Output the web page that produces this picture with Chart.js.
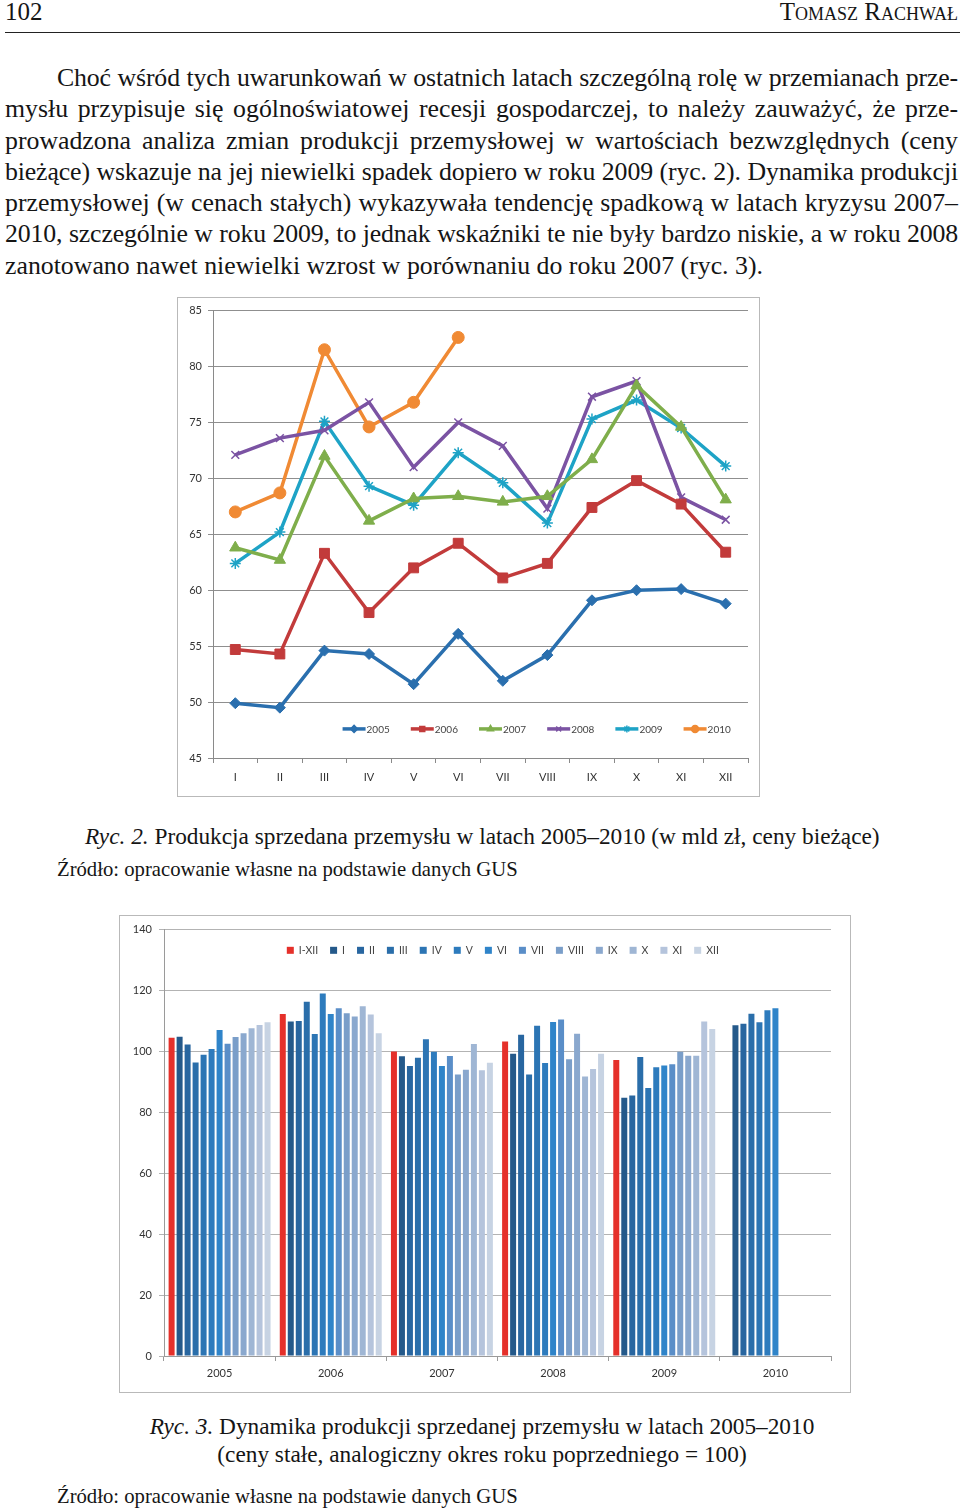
<!DOCTYPE html>
<html lang="pl">
<head>
  <meta charset="UTF-8" />
  <title>Ryc. 2 i Ryc. 3</title>
  <script src="https://cdn.jsdelivr.net/npm/chart.js@4.4.1/dist/chart.umd.min.js"></script>
  <style>
    /* ---------- page ---------- */
    html,body{margin:0;padding:0;background:#fff;}
    body{width:960px;height:1512px;position:relative;overflow:hidden;
         font-family:"Liberation Serif","DejaVu Serif",serif;color:#151515;}
    .abs{position:absolute;white-space:nowrap;}
    .pageno{left:5px;top:-2px;font-size:25px;line-height:28px;}
    .author{right:2px;top:-2px;font-size:25px;line-height:28px;font-variant:small-caps;}
    .rule{position:absolute;left:5px;right:0;top:32px;height:0;border-top:1.4px solid #222;}
    .para{position:absolute;left:5px;top:62px;width:953px;font-size:25.8px;}
    .para div{height:31.3px;line-height:31.3px;white-space:nowrap;
              text-align:justify;text-align-last:justify;}
    .para div.first{padding-left:52px;}
    .para div.last{text-align-last:left;}
    .cap{font-size:23.3px;line-height:26px;}
    .src{font-size:20.7px;line-height:24px;}
    .box{position:absolute;box-sizing:border-box;border:1px solid #b9b9b9;background:#fff;}
    .box canvas{display:block;}
  </style>
</head>
<body>
  <div class="abs pageno">102</div>
  <div class="abs author">Tomasz Rachwał</div>
  <div class="rule"></div>

  <div class="para">
    <div class="first">Choć wśród tych uwarunkowań w ostatnich latach szczególną rolę w przemianach prze-</div>
    <div>mysłu przypisuje się ogólnoświatowej recesji gospodarczej, to należy zauważyć, że prze-</div>
    <div>prowadzona analiza zmian produkcji przemysłowej w wartościach bezwzględnych (ceny</div>
    <div>bieżące) wskazuje na jej niewielki spadek dopiero w roku 2009 (ryc. 2). Dynamika produkcji</div>
    <div>przemysłowej (w cenach stałych) wykazywała tendencję spadkową w latach kryzysu 2007–</div>
    <div>2010, szczególnie w roku 2009, to jednak wskaźniki te nie były bardzo niskie, a w roku 2008</div>
    <div class="last">zanotowano nawet niewielki wzrost w porównaniu do roku 2007 (ryc. 3).</div>
  </div>

  <!-- ---- Ryc. 2 ---- -->
  <div class="box" style="left:177px;top:297px;width:583px;height:500px;">
    <canvas id="salesChart"></canvas>
  </div>
  <div class="abs cap" style="left:85px;top:823px;"><i>Ryc. 2.</i> Produkcja sprzedana przemysłu w latach 2005–2010 (w mld zł, ceny bieżące)</div>
  <div class="abs src" style="left:57px;top:857px;">Źródło: opracowanie własne na podstawie danych GUS</div>

  <!-- ---- Ryc. 3 ---- -->
  <div class="box" style="left:119px;top:915px;width:732px;height:478px;">
    <canvas id="dynChart"></canvas>
  </div>
  <div class="abs cap" style="left:0;width:964px;top:1412px;text-align:center;line-height:28px;">
    <i>Ryc. 3.</i> Dynamika produkcji sprzedanej przemysłu w latach 2005–2010<br>(ceny stałe, analogiczny okres roku poprzedniego = 100)
  </div>
  <div class="abs src" style="left:57px;top:1484px;">Źródło: opracowanie własne na podstawie danych GUS</div>

  <script>
    /* ---------- data: Ryc. 2 (mld zł, ceny bieżące) ---------- */
    const months = ["I","II","III","IV","V","VI","VII","VIII","IX","X","XI","XII"];
    const salesYears = ["2005","2006","2007","2008","2009","2010"];
    const sales2005 = [49.9, 49.5, 54.6, 54.3, 51.6, 56.1, 51.9, 54.2, 59.1, 60.0, 60.1, 58.8];
    const sales2006 = [54.7, 54.3, 63.3, 58.0, 62.0, 64.2, 61.1, 62.4, 67.4, 69.8, 67.7, 63.4];
    const sales2007 = [63.8, 62.7, 72.0, 66.2, 68.2, 68.4, 67.9, 68.4, 71.7, 78.3, 74.6, 68.1];
    const sales2008 = [72.1, 73.6, 74.3, 76.8, 71.0, 75.0, 72.9, 67.3, 77.3, 78.7, 68.3, 66.3];
    const sales2009 = [62.4, 65.2, 75.1, 69.3, 67.6, 72.3, 69.6, 66.0, 75.3, 77.0, 74.5, 71.1];
    const sales2010 = [67.0, 68.7, 81.5, 74.6, 76.8, 82.6, null, null, null, null, null, null];

    /* ---------- data: Ryc. 3 (analogiczny okres roku poprzedniego = 100) ---------- */
    const dynYears = ["2005","2006","2007","2008","2009","2010"];
    const dynPeriods = ["I-XII","I","II","III","IV","V","VI","VII","VIII","IX","X","XI","XII"];
    const dyn2005 = [104.5, 104.8, 102.3, 96.4, 98.9, 100.8, 107.0, 102.5, 104.7, 106.0, 107.6, 108.7, 109.6];
    const dyn2006 = [112.3, 109.8, 110.0, 116.3, 105.7, 119.0, 112.3, 114.2, 112.5, 111.5, 114.8, 112.1, 106.0];
    const dyn2007 = [100.0, 98.4, 95.2, 97.9, 104.0, 99.9, 95.2, 98.5, 92.4, 94.0, 102.4, 93.8, 96.3];
    const dyn2008 = [103.3, 99.2, 105.5, 92.4, 108.4, 96.2, 109.7, 110.5, 97.4, 105.8, 91.8, 94.2, 99.2];
    const dyn2009 = [97.2, 84.8, 85.5, 98.2, 88.0, 94.8, 95.4, 95.8, 99.9, 98.6, 98.6, 109.8, 107.4];
    const dyn2010 = [null, 108.6, 109.1, 112.4, 109.6, 113.5, 114.2, null, null, null, null, null, null];

    /* ---------- styles ---------- */
    const lineColors = ["#2a6fae","#c23b3b","#7fae4b","#7b53a3","#1ea3c6","#f08a34"];
    const lineMarkers = [
      {style:"rectRot", r:5.5}, {style:"rect", r:7}, {style:"triangle", r:6.5},
      {style:"crossRot", r:5.5}, {style:"star", r:5.5}, {style:"circle", r:6}
    ];
    const barColors = ["#e5302a","#24598a","#2866a0","#2a6eaa","#2c75b4","#2d7bbd","#2f84c9",
                       "#5a8ec8","#7a9ec9","#8aa8ce","#9fb6d4","#b5c4dc","#c7d3e3"];
    const axisFont = {family:"Lato, 'Open Sans', sans-serif", size:11};

    /* squeeze paragraph lines that are a touch too long for the column */
    document.querySelectorAll(".para div").forEach(d=>{
      const isLast = d.classList.contains("last");
      d.style.textAlignLast = "left";
      const s = document.createElement("span");
      s.innerHTML = d.innerHTML; d.innerHTML = ""; d.appendChild(s);
      const avail = d.clientWidth - parseFloat(getComputedStyle(d).paddingLeft);
      const w = s.getBoundingClientRect().width;
      if(w > avail - 3){
        d.style.letterSpacing = ((avail - 3 - w) / s.textContent.length) + "px";
      }
      if(!isLast) d.style.textAlignLast = "justify";
    });

    /* legend drawn inside the plot area, like the Excel original */
    const insideLegend = {
      id:"insideLegend",
      afterDraw(chart, args, o){
        if(!o || !o.show) return;
        const {ctx, chartArea, scales} = chart;
        const y = scales.y.getPixelForValue(o.atValue);
        ctx.save();
        ctx.font = o.font;
        ctx.textBaseline = "middle";
        const sets = chart.data.datasets;
        const widths = sets.map(d => o.symW + o.textGap + ctx.measureText(d.label).width);
        const total = widths.reduce((a,b)=>a+b,0) + o.itemGap*(sets.length-1);
        let x = chartArea.left + chartArea.width*o.centerFrac - total/2;
        sets.forEach((d,i)=>{
          const col = d.borderColor;
          if(o.kind === "line"){
            ctx.strokeStyle = col; ctx.fillStyle = col;
            ctx.lineWidth = 3.5;
            ctx.beginPath(); ctx.moveTo(x, y); ctx.lineTo(x+o.symW, y); ctx.stroke();
            ctx.lineWidth = 1.5;
            Chart.helpers.drawPoint(ctx, {pointStyle:d.pointStyle, radius:3.5, borderWidth:1.5, rotation:0}, x+o.symW/2, y);
          } else {
            ctx.fillStyle = d.backgroundColor;
            ctx.fillRect(x, y-3.5, o.symW, 7);
          }
          ctx.fillStyle = "#444";
          ctx.fillText(d.label, x+o.symW+o.textGap, y+0.5);
          x += widths[i] + o.itemGap;
        });
        ctx.restore();
      }
    };

    /* 1. Ryc. 2 — line chart ------------------------------------------------ */
    const salesSeries = [sales2005, sales2006, sales2007, sales2008, sales2009, sales2010];
    new Chart(document.getElementById("salesChart"), {
      type:"line",
      data:{
        labels:months,
        datasets:salesSeries.map((vals,i)=>({
          label:salesYears[i], data:vals,
          borderColor:lineColors[i], backgroundColor:lineColors[i],
          borderWidth:3.5, tension:0,
          pointStyle:lineMarkers[i].style, pointRadius:lineMarkers[i].r,
          pointBorderWidth:lineMarkers[i].style.indexOf("cross")===0||lineMarkers[i].style==="star" ? 1.5 : 1,
          pointBackgroundColor:lineColors[i], pointBorderColor:lineColors[i],
          spanGaps:false
        }))
      },
      options:{
        responsive:true, maintainAspectRatio:false, animation:false,
        layout:{padding:{left:5,right:11,top:12,bottom:8}},
        plugins:{
          legend:{display:false}, tooltip:{enabled:false},
          insideLegend:{show:true, kind:"line", atValue:47.6, centerFrac:0.605,
                        symW:23, textGap:1, itemGap:21, font:"10px Lato, 'Open Sans', sans-serif"}
        },
        scales:{
          x:{
            offset:true,
            grid:{offset:true, drawOnChartArea:false, tickLength:5, color:"#8a8a8a"},
            border:{color:"#8a8a8a"},
            ticks:{font:axisFont, color:"#333", padding:8, maxRotation:0},
            afterFit:s=>{s.height=30;}
          },
          y:{
            min:45, max:85,
            grid:{color:"#8f8f8f", tickLength:5},
            border:{color:"#8a8a8a"},
            ticks:{stepSize:5, font:axisFont, color:"#333", padding:6},
            afterFit:s=>{s.width=30;}
          }
        }
      },
      plugins:[insideLegend]
    });

    /* 2. Ryc. 3 — grouped bars ---------------------------------------------- */
    const dynByYear = [dyn2005, dyn2006, dyn2007, dyn2008, dyn2009, dyn2010];
    new Chart(document.getElementById("dynChart"), {
      type:"bar",
      data:{
        labels:dynYears,
        datasets:dynPeriods.map((p,j)=>({
          label:p,
          data:dynByYear.map(row=>row[j]),
          backgroundColor:barColors[j], borderColor:barColors[j], borderWidth:0,
          categoryPercentage:0.935, barPercentage:0.75
        }))
      },
      options:{
        responsive:true, maintainAspectRatio:false, animation:false,
        layout:{padding:{left:5,right:19,top:10,bottom:6}},
        plugins:{
          legend:{display:false}, tooltip:{enabled:false},
          insideLegend:{show:true, kind:"bar", atValue:133.2, centerFrac:0.508,
                        symW:7, textGap:5, itemGap:12, font:"10.5px Lato, 'Open Sans', sans-serif"}
        },
        scales:{
          x:{
            grid:{offset:true, drawOnChartArea:false, tickLength:5, color:"#9a9a9a"},
            border:{color:"#9a9a9a"},
            ticks:{font:axisFont, color:"#333", padding:6, maxRotation:0},
            afterFit:s=>{s.height=30;}
          },
          y:{
            min:0, max:140,
            grid:{color:"#b3b3b3", tickLength:5},
            border:{color:"#9a9a9a"},
            ticks:{stepSize:20, font:axisFont, color:"#333", padding:7},
            afterFit:s=>{s.width=39;}
          }
        }
      },
      plugins:[insideLegend]
    });
  </script>
</body>
</html>
